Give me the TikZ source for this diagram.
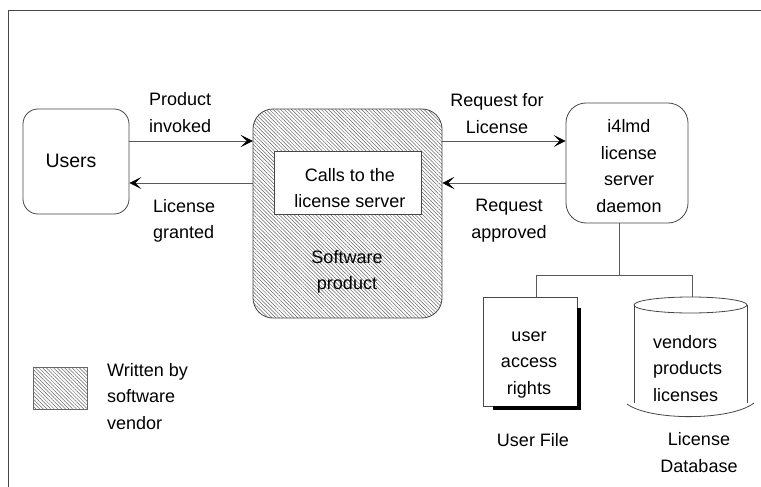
\documentclass[tikz,border=0pt]{standalone}
\usepackage{fontspec}
\setmainfont{Liberation Sans}
\usetikzlibrary{arrows.meta,patterns.meta,calc}
\begin{document}
\begin{tikzpicture}[x=1pt,y=-1pt,
  lc/.style={draw=black!72, line width=0.8pt},
  boxn/.style={lc, inner sep=0pt},
  txt/.style={font=\fontsize{18}{26.5}\selectfont, inner sep=0pt, text=black},
  arr/.style={draw=black!65, line width=0.8pt, -{Stealth[length=12pt,width=12pt,inset=6pt,color=black]}},
  conn/.style={draw=black!65, line width=0.8pt},
  hatch/.style={pattern={Lines[angle=-45,distance=2.6pt,line width=0.5pt]}, pattern color=black!60},
]
\useasboundingbox (0,0) rectangle (761,487);
\fill[white] (0,0) rectangle (761,487);
% frame
\draw[black!72, line width=1pt] (8,487) -- (8,10.5) -- (761,10.5);

% boxes
\node[boxn, rounded corners=15pt, minimum width=106pt, minimum height=105pt] (users) at (76,161.5) {};
\node[txt, font=\fontsize{19.5}{26.5}\selectfont] (userst) at (71,161.7) {\strut Users};

\node[boxn, hatch, rounded corners=20pt, minimum width=189pt, minimum height=209pt] (sw) at (347.5,213.5) {};
\node[boxn, fill=white, minimum width=147pt, minimum height=63pt] (calls) at (347.5,182.5) {};
\node[txt, align=center] (callst) at (350,189.2) {\strut Calls to the\\\strut license server};
\node[txt, align=center] (swt) at (347,271.2) {\strut Software\\\strut product};

\node[boxn, rounded corners=20pt, minimum width=122pt, minimum height=120pt] (daemon) at (627,163) {};
\node[txt, align=center] (daemont) at (629,167.2) {\strut i4lmd\\\strut license\\\strut server\\\strut daemon};

% arrow rows
\coordinate (r1) at (0,141);
\coordinate (r2) at (0,183);
\draw[arr] (users.east |- r1) -- (sw.west |- r1);
\draw[arr] (sw.west |- r2) -- (users.east |- r2);
\draw[arr] (sw.east |- r1) -- (daemon.west |- r1);
\draw[arr] (daemon.west |- r2) -- (sw.east |- r2);

% arrow labels
\node[txt, align=left, anchor=west] (l1) at (149,113.7) {\strut Product\\\strut invoked};
\node[txt, align=left, anchor=west] (l2) at (153,220.2) {\strut License\\\strut granted};
\node[txt, align=center] (l3) at (497,114.7) {\strut Request for\\\strut License};
\node[txt, align=center] (l4) at (509,219.7) {\strut Request\\\strut approved};

% user file with shadow
\node[boxn, minimum width=94pt, minimum height=109pt] (ufile) at (530,351.5) {};
\fill[black] ([yshift=-11pt]ufile.north east) rectangle ([xshift=4pt,yshift=-4pt]ufile.south east);
\fill[black] ([xshift=10pt]ufile.south west) rectangle ([xshift=4pt,yshift=-4pt]ufile.south east);
\node[txt, align=center] (ufilet) at (529,362.2) {\strut user\\\strut access\\\strut rights};
\node[txt] (ufilel) at (533,440.7) {\strut User File};

% database cylinder
\node[inner sep=0pt, minimum width=113pt, minimum height=106pt] (db) at (690.5,350) {};
\draw[lc] (690.5,305) ellipse [x radius=56.5, y radius=8];
\draw[lc] (634,305) -- (634,403);
\draw[lc] (747,305) -- (747,403);
\draw[lc] (627,404) .. controls (650,421) and (731,421) .. (754,403);
\node[txt, align=left, anchor=west] (dbt) at (653,369.2) {\strut vendors\\\strut products\\\strut licenses};
\node[txt, align=center] (dbl) at (699,453.7) {\strut License\\\strut Database};

% tree connectors
\coordinate (j) at (619,275);
\coordinate (jl) at (536,275);
\coordinate (jr) at (692,275);
\draw[conn] (daemon.south -| j) -- (j);
\draw[conn] (jl) -- (jr);
\draw[conn] (jl) -- (jl |- ufile.north);
\draw[conn] (jr) -- (jr |- db.north);

% legend
\node[boxn, hatch, draw=black!60, minimum width=54pt, minimum height=42pt] (legend) at (60,388) {};
\node[txt, align=left, anchor=west] (legendt) at (107,397.2) {\strut Written by\\\strut software\\\strut vendor};
\end{tikzpicture}
\end{document}
